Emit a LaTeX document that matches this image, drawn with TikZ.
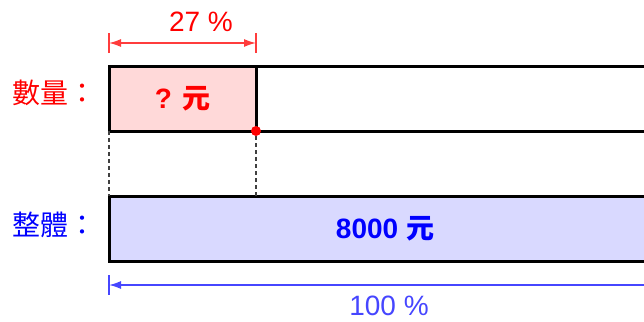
\documentclass[tikz,border=0pt]{standalone}
\usepackage{fontspec}
\setmainfont{Liberation Sans}
\newfontfamily\cjk{Noto Sans CJK TC}
\usepackage{tikz}
\usetikzlibrary{arrows.meta, positioning}
\definecolor{barpink}{RGB}{255,217,217}
\definecolor{barblue}{RGB}{217,217,255}
\definecolor{txtred}{RGB}{255,0,0}
\definecolor{txtblue}{RGB}{0,0,255}
\definecolor{dimred}{RGB}{255,60,60}
\definecolor{dimblue}{RGB}{70,70,255}

\begin{document}
\begin{tikzpicture}
    [x=1pt, y=-1pt,
     every node/.style={font=\fontsize{28}{34}\selectfont, inner sep=0pt},
     bar/.style={draw, line width=3pt, outer sep=0pt, minimum height=65pt, anchor=north west},
     dimline/.style={line width=1.5pt, {Latex[length=12pt,width=8pt]}-{Latex[length=12pt,width=8pt]}},
     tick/.style={line width=1.5pt},
     guide/.style={line width=1.5pt, draw=black!75, dash pattern=on 4pt off 3pt}]

    \useasboundingbox (0,0) rectangle (644,321);
    \clip (0,0) rectangle (644,321);

    % bars
    \node[bar, fill=white, minimum width=405pt] (rest) at (256,66) {};
    \node[bar, fill=barpink, minimum width=147pt, text=txtred] (part) at (109,66)
        {\bfseries ? \cjk\bfseries 元};
    \node[bar, fill=barblue, minimum width=552pt, text=txtblue] (whole) at (109,196)
        {\bfseries 8000 \cjk\bfseries 元};
    \node[circle, fill=txtred, minimum size=10pt] (dot) at (part.south east) {};

    % labels
    \node[anchor=west, text=txtred] (qty) at (12,93) {\cjk 數量：};
    \node[anchor=west, text=txtblue] (total) at (12,225) {\cjk 整體：};

    % guides
    \draw[guide] (part.south west) -- (whole.north west);
    \draw[guide] (dot) -- (dot |- whole.north);

    % 27 %
    \draw[tick, dimred] ([yshift=13pt]part.north west) -- ([yshift=33pt]part.north west);
    \draw[tick, dimred] ([yshift=13pt]part.north east) -- ([yshift=33pt]part.north east);
    \draw[dimline, dimred] ([yshift=23pt]part.north west) -- ([yshift=23pt]part.north east);
    \node[text=txtred] (pct) at (201,22) {27 \%};

    % 100 %
    \draw[tick, dimblue] ([yshift=-14pt]whole.south west) -- ([yshift=-34pt]whole.south west);
    \draw[tick, dimblue] ([yshift=-14pt]whole.south east) -- ([yshift=-34pt]whole.south east);
    \draw[dimline, dimblue] ([yshift=-24pt]whole.south west) -- ([yshift=-24pt]whole.south east);
    \node[text=dimblue] (full) at (389,306) {100 \%};
\end{tikzpicture}
\end{document}
